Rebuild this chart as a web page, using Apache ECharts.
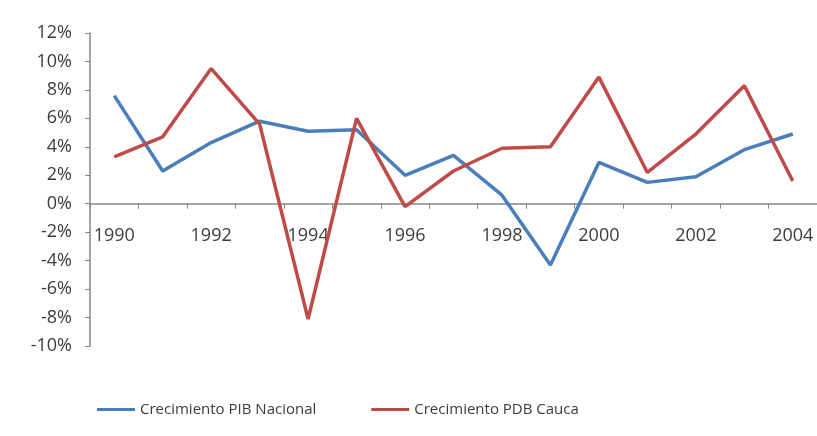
<!DOCTYPE html>
<html>
<head>
<meta charset="utf-8">
<script src="https://cdn.jsdelivr.net/npm/echarts@6/dist/echarts.min.js"></script>
<style>
  html, body { margin: 0; padding: 0; background: #fff; }
  #chart { width: 817px; height: 436px; }
</style>
</head>
<body>
<div id="chart"></div>
<script>
// años
const years = ["1990", "1991", "1992", "1993", "1994", "1995", "1996", "1997",
  "1998", "1999", "2000", "2001", "2002", "2003", "2004"];
// crecimiento en %
const pibNacional = [7.6, 2.3, 4.3, 5.8, 5.1, 5.2, 2.0, 3.4, 0.6, -4.3, 2.9, 1.5, 1.9, 3.8, 4.9];
const pdbCauca = [3.3, 4.7, 9.5, 5.6, -8.1, 6.0, -0.2, 2.3, 3.9, 4.0, 8.9, 2.2, 4.9, 8.3, 1.6];
const seriesNames = ["Crecimiento PIB Nacional", "Crecimiento PDB Cauca"];

const myChart = echarts.init(document.getElementById("chart"));
const axisColor = "#868686";
const textColor = "#3c3c3c";
const font = "'Open Sans', sans-serif";
const gridTop = 33, gridBottom = 90;
const yMin = -10, yMax = 12;
// el eje x va sobre el 0%, se sube con offset
const plotH = 436 - gridTop - gridBottom;
const zeroOffset = -plotH * (0 - yMin) / (yMax - yMin);

let option = {
  backgroundColor: "#ffffff",
  animation: false,
  color: ["#4a7ebb", "#be4b48"],
  grid: {
    left: 90,
    right: -2,
    top: gridTop,
    bottom: gridBottom,
  },
  legend: {
    top: 397,
    left: 92,
    icon: "rect",
    itemWidth: 38,
    itemHeight: 3,
    itemGap: 55,
    textStyle: { color: textColor, fontSize: 15, fontFamily: font },
    data: seriesNames,
  },
  xAxis: {
    type: "category",
    data: years,
    boundaryGap: true,
    offset: zeroOffset,
    axisLine: { onZero: false, lineStyle: { color: axisColor, width: 1.5 } },
    axisTick: { show: true, interval: 0, length: 5, lineStyle: { color: axisColor } },
    axisLabel: {
      interval: 1,
      margin: 23,
      color: textColor,
      fontSize: 18,
      fontFamily: font,
    },
    splitLine: { show: false },
  },
  yAxis: {
    type: "value",
    min: yMin,
    max: yMax,
    interval: 2,
    axisLine: { show: true, lineStyle: { color: axisColor, width: 1.5 } },
    axisTick: { show: true, length: 5, lineStyle: { color: axisColor } },
    axisLabel: {
      formatter: (v) => v + "%",
      margin: 18,
      color: textColor,
      fontSize: 18,
      fontFamily: font,
    },
    splitLine: { show: false },
  },
  series: [
    {
      name: seriesNames[0],
      type: "line",
      data: pibNacional,
      symbol: "none",
      lineStyle: { width: 3.5 },
    },
    {
      name: seriesNames[1],
      type: "line",
      data: pdbCauca,
      symbol: "none",
      lineStyle: { width: 3.5 },
    },
  ],
};
myChart.setOption(option);
</script>
</body>
</html>
